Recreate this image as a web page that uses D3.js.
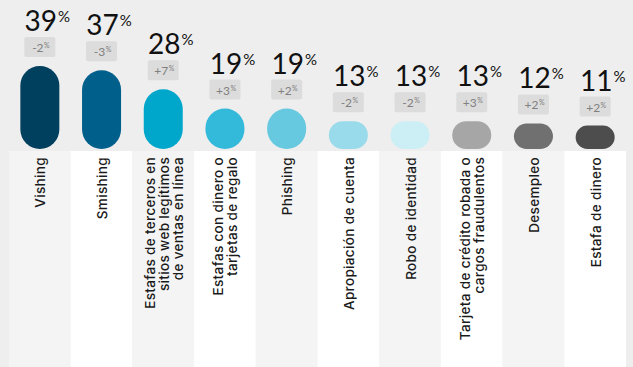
<!DOCTYPE html>
<html>
<head>
<meta charset="utf-8">
<script src="https://cdn.jsdelivr.net/npm/d3@7"></script>
<style>
  body { margin: 0; background: #eeeeee; }
  svg { display: block; }
</style>
</head>
<body>
<script>
var categories = [
  "Vishing",
  "Smishing",
  "Estafas de terceros en|sitios web legítimos|de ventas en línea",
  "Estafas con dinero o|tarjetas de regalo",
  "Phishing",
  "Apropiación de cuenta",
  "Robo de identidad",
  "Tarjeta de crédito robada o|cargos fraudulentos",
  "Desempleo",
  "Estafa de dinero"
];
var values = [39, 37, 28, 19, 19, 13, 13, 13, 12, 11];
var changes = ["-2", "-3", "+7", "+3", "+2", "-2", "-2", "+3", "+2", "+2"];
var colors = ["#00405f", "#005f8b", "#00a7cb", "#33b9d9", "#66c9e0", "#99dbeb", "#cceef5", "#a6a6a6", "#707070", "#4d4d4d"];

var width = 633, height = 367;
var baseY = 149, labelTop = 151;
var barW = 39;

var svg = d3.select('body').append('svg')
  .attr('width', width)
  .attr('height', height);

svg.append('rect')
  .attr('width', width).attr('height', height)
  .attr('fill', '#eeeeee');

var x = d3.scaleBand()
  .domain(categories)
  .range([9, 626])
  .padding(0);

var y = d3.scaleLinear()
  .domain([0, 100])
  .range([0, 213]);

// label columns
svg.selectAll('.col')
  .data(categories)
  .enter().append('rect')
  .attr('x', function(d) { return x(d); })
  .attr('y', labelTop)
  .attr('width', x.bandwidth())
  .attr('height', height - labelTop)
  .attr('fill', function(d, i) { return i % 2 == 0 ? '#f4f4f4' : '#ffffff'; });

var g = svg.selectAll('.item')
  .data(categories)
  .enter().append('g')
  .attr('transform', function(d) { return 'translate(' + (x(d) + x.bandwidth() / 2) + ',0)'; });

// pills
g.append('rect')
  .attr('x', -barW / 2)
  .attr('y', function(d, i) { return baseY - y(values[i]); })
  .attr('width', barW)
  .attr('height', function(d, i) { return y(values[i]); })
  .attr('rx', function(d, i) { return Math.min(barW, y(values[i])) / 2; })
  .attr('ry', function(d, i) { return Math.min(barW, y(values[i])) / 2; })
  .attr('fill', function(d, i) { return colors[i]; });

// change badges
g.append('rect')
  .attr('x', -15.5)
  .attr('y', function(d, i) { return baseY - y(values[i]) - 9 - 20; })
  .attr('width', 31)
  .attr('height', 20)
  .attr('rx', 2)
  .attr('fill', '#dcdcdc');

g.each(function(d, i) {
  var el = d3.select(this);
  var top = baseY - y(values[i]);

  var ct = el.append('text')
    .attr('x', -2)
    .attr('y', top - 9 - 5)
    .attr('text-anchor', 'middle')
    .attr('font-family', 'Lato, sans-serif')
    .attr('font-size', 12)
    .attr('fill', '#808080')
    .text(changes[i]);
  var cw = ct.node().getComputedTextLength();
  el.append('text')
    .attr('x', -2 + cw / 2 + 0.5)
    .attr('y', top - 9 - 9)
    .attr('font-family', 'Lato, sans-serif')
    .attr('font-size', 7)
    .attr('fill', '#808080')
    .text('%');

  var vt = el.append('text')
    .attr('x', 1)
    .attr('y', top - 35)
    .attr('text-anchor', 'middle')
    .attr('font-family', 'Lato, sans-serif')
    .attr('font-size', 28)
    .attr('fill', '#111111')
    .text(values[i]);
  var vw = vt.node().getComputedTextLength();
  el.append('text')
    .attr('x', 1 + vw / 2 + 1)
    .attr('y', top - 35 - 9)
    .attr('font-family', 'Lato, sans-serif')
    .attr('font-size', 15)
    .attr('fill', '#111111')
    .text('%');

  // rotated category label
  var lines = d.split('|');
  var lh = 14;
  var t = el.append('text')
    .attr('transform', 'translate(0,157) rotate(-90)')
    .attr('text-anchor', 'end')
    .attr('font-family', 'Inter, sans-serif')
    .attr('font-size', 13.5)
    .attr('font-weight', 500)
    .attr('letter-spacing', 0.35)
    .attr('fill', '#1a1a1a');
  lines.forEach(function(line, k) {
    t.append('tspan')
      .attr('x', 0)
      .attr('y', (k - (lines.length - 1) / 2) * lh + 5.5)
      .text(line);
  });
});
</script>
</body>
</html>
